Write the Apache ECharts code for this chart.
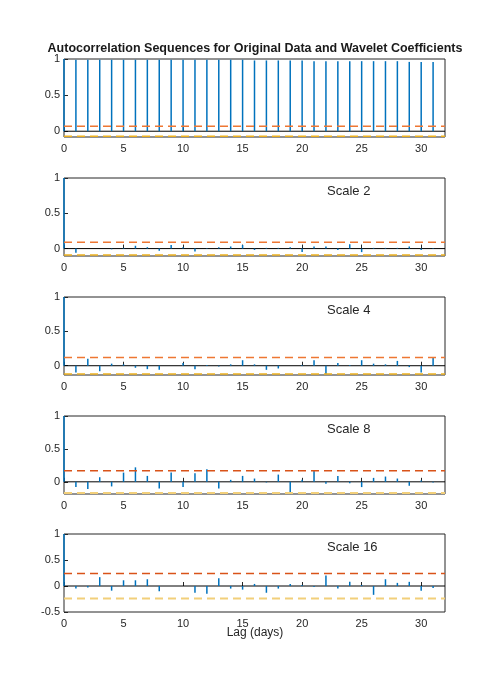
<!DOCTYPE html>
<html><head><meta charset="utf-8">
<script src="https://cdn.jsdelivr.net/npm/echarts@6/dist/echarts.min.js"></script>
<style>html,body{margin:0;padding:0;background:#fff}#c{width:492px;height:688px}</style>
</head><body><div id="c"></div>
<script>
const lags = Array.from({length:32},(_,i)=>i);
const xTicks = [0,5,10,15,20,25,30];
const original = [1,0.99,0.99,0.99,0.99,0.99,0.99,0.99,0.99,0.99,0.99,0.99,0.99,0.99,0.99,0.99,0.98,0.98,0.98,0.98,0.98,0.97,0.97,0.97,0.97,0.97,0.97,0.97,0.97,0.96,0.96,0.96];
const scale2 = [1,-0.06,0,0,-0.01,0.01,0.04,0.02,-0.03,0.05,0.02,-0.04,0.01,0.02,0.03,0.05,-0.02,0.01,0.01,0.02,-0.05,0.03,0.03,-0.02,0.06,-0.05,0.01,0.01,0.01,0.03,-0.02,0.01];
const scale4 = [1,-0.1,0.1,-0.08,0.03,0.02,-0.03,-0.05,-0.06,0,0.04,-0.05,0.01,-0.01,0.02,0.08,0.02,-0.06,-0.04,0,0.01,0.08,-0.12,0.04,0.01,0.08,0.03,0.02,0.07,-0.02,-0.1,0.12];
const scale8 = [1,-0.08,-0.11,0.07,-0.07,0.14,0.22,0.09,-0.1,0.14,-0.08,0.13,0.19,-0.1,0.03,0.09,0.05,-0.01,0.11,-0.16,0.03,0.17,-0.03,0.09,-0.02,-0.08,0.06,0.08,0.05,-0.06,0.02,-0.01];
const scale16 = [1,-0.05,-0.03,0.17,-0.09,0.11,0.11,0.13,-0.1,0,0,-0.13,-0.15,0.15,-0.05,-0.07,0.04,-0.13,-0.05,0.04,0.02,-0.02,0.2,-0.05,0.08,0.02,-0.17,0.13,0.06,0.08,-0.09,-0.04];
const bounds = [0.07,0.09,0.12,0.17,0.24];
const yMins = [-0.08,-0.105,-0.135,-0.185,-0.5];
const labels = ['', 'Scale 2','Scale 4','Scale 8','Scale 16'];
const upColors = ['#EE7733','#EE7733','#EE7733','#D95319','#D95319'];
const lowColors = ['#EDB120','#EDB120','#EDB120','#F2CF7A','#F2CF7A'];
const datasets = [original, scale2, scale4, scale8, scale16];
const tops = [59,178,297,416,534];
const H = 78;
const font = 'Liberation Sans, Arial, sans-serif';
const grid=[],xAxis=[],yAxis=[],series=[],graphic=[];
datasets.forEach((d,i)=>{
  grid.push({left:64,width:381,top:tops[i],height:H,show:true,borderColor:'#262626',borderWidth:1,backgroundColor:'#fff'});
  xAxis.push({type:'value',gridIndex:i,min:0,max:32,splitLine:{show:false},
    axisLine:{show:false},axisTick:{inside:true,length:4,customValues:xTicks,lineStyle:{color:'#262626'}},
    axisLabel:{customValues:xTicks,color:'#262626',fontSize:11,fontFamily:font,margin:6}});
  const ticks = i===4?[-0.5,0,0.5,1]:[0,0.5,1];
  yAxis.push({type:'value',gridIndex:i,min:yMins[i],max:1,splitLine:{show:false},axisLine:{show:false},
    axisTick:{inside:true,length:4,customValues:ticks,lineStyle:{color:'#262626'}},
    axisLabel:{customValues:ticks,color:'#262626',fontSize:11,fontFamily:font,margin:4}});
  series.push({type:'line',xAxisIndex:i,yAxisIndex:i,data:[[0,0],[32,0]],symbol:'none',silent:true,lineStyle:{color:'#000',width:1},z:1});
  series.push({type:'bar',xAxisIndex:i,yAxisIndex:i,data:lags.map(l=>[l,d[l]]),barWidth:1.5,itemStyle:{color:'#0072BD'},z:2});
  series.push({type:'line',xAxisIndex:i,yAxisIndex:i,data:[[0,bounds[i]],[32,bounds[i]]],symbol:'none',lineStyle:{color:upColors[i],width:1.5,type:[8,5]},z:3});
  series.push({type:'line',xAxisIndex:i,yAxisIndex:i,data:[[0,-bounds[i]],[32,-bounds[i]]],symbol:'none',lineStyle:{color:lowColors[i],width:i>2?2:1.5,type:[8,5]},z:3});
  if(labels[i]) graphic.push({type:'text',left:327,top:tops[i]+7,style:{text:labels[i],font:'13px '+font,fill:'#262626'}});
});
graphic.push({type:'text',x:255,y:627,style:{text:'Lag (days)',font:'12px '+font,fill:'#262626',align:'center'}});
graphic.push({type:'text',x:255,y:42,style:{text:'Autocorrelation Sequences for Original Data and Wavelet Coefficients',font:'bold 12.5px '+font,fill:'#1a1a1a',align:'center'}});
const chart = echarts.init(document.getElementById('c'),null,{renderer:'canvas'});
chart.setOption({animation:false,grid,xAxis,yAxis,series,graphic});
</script></body></html>
